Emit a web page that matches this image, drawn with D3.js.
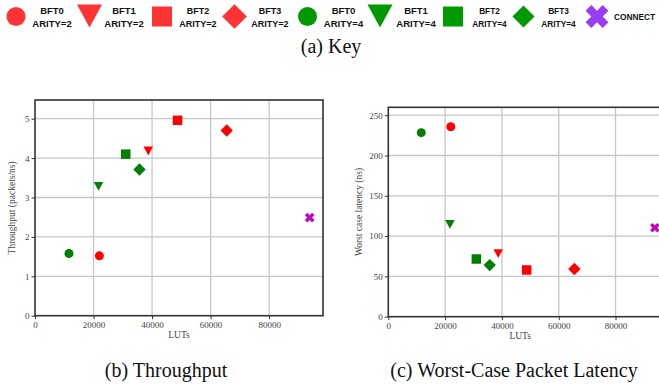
<!DOCTYPE html>
<html><head><meta charset="utf-8">
<script src="https://cdn.jsdelivr.net/npm/d3@7"></script>
<style>body{margin:0;background:#fff}svg{display:block}</style>
</head><body>
<svg id="c" width="659" height="385"></svg>
<script>
// ---- data ----
const names = ["BFT0","BFT1","BFT2","BFT3","BFT0","BFT1","BFT2","BFT3","CONNECT"];
const arities = ["ARITY=2","ARITY=2","ARITY=2","ARITY=2","ARITY=4","ARITY=4","ARITY=4","ARITY=4",""];
const shapes = ["circle","triangle","square","diamond","circle","triangle","square","diamond","x"];
const groups = ["a2","a2","a2","a2","a4","a4","a4","a4","connect"];
const luts = [22000, 38700, 48700, 65500, 11600, 21700, 31000, 35700, 93850];
const throughput = [1.52, 4.19, 4.96, 4.70, 1.58, 3.29, 4.10, 3.71, 2.49];
const latency = [235.7, 78.7, 58.0, 59.2, 228.3, 115.0, 71.6, 64.0, 110.4];
const xTicks = [0, 20000, 40000, 60000, 80000];
const yTicksThroughput = [0, 1, 2, 3, 4, 5];
const yTicksLatency = [0, 50, 100, 150, 200, 250];

const plotColor = {a2:"#ff0000", a4:"#008000", connect:"#c400c4"};
const keyColor = {a2:"#ff3333", a4:"#009900", connect:"#9b3cf5"};

const svg = d3.select("#c");

function shapePath(shape, s){
  const h = s/2;
  switch(shape){
    case "circle": { const p = d3.path(); p.arc(0,0,h,0,2*Math.PI); return p.toString(); }
    case "triangle": return `M${-h},${-h*0.85}L${h},${-h*0.85}L0,${h*1.0}Z`;
    case "square": return `M${-h},${-h}L${h},${-h}L${h},${h}L${-h},${h}Z`;
    case "diamond": { const d = h*1.3; return `M0,${-d}L${d},0L0,${d}L${-d},0Z`; }
    case "x": return d3.symbol(d3.symbolCross, s*s*0.9)();
  }
}

function drawMarker(g, shape, cx, cy, s, color){
  const el = g.append("path").attr("d", shapePath(shape, s)).attr("fill", color);
  if(shape === "x") el.attr("transform", `translate(${cx},${cy}) rotate(45)`);
  else el.attr("transform", `translate(${cx},${cy})`);
  return el;
}

// ---- key ----
const keyX = [16, 89.5, 162, 234.5, 307.5, 380, 453, 523.5, 597];
const keyTextX = [52, 124, 198, 270, 343.5, 416, 489.5, 558.5, 634.5];
const keySize = [19, 25, 20, 19, 19, 25, 20, 17, 19];
const keyFont = [9.5, 9.5, 9, 9, 9.5, 9.5, 8.3, 8.3, 8.3];
const key = svg.append("g");
names.forEach((n,i)=>{
  const cy = shapes[i]==="triangle" ? 15 : 16.5;
  drawMarker(key, shapes[i], keyX[i], cy, keySize[i], keyColor[groups[i]]);
  const t = key.append("text").attr("x", keyTextX[i]).attr("text-anchor","middle")
    .attr("font-family","Liberation Sans, Arial, sans-serif").attr("font-weight","bold")
    .attr("font-size", keyFont[i]).attr("fill","#111");
  if(arities[i]){
    t.append("tspan").attr("x", keyTextX[i]).attr("y", 13.5).text(n);
    t.append("tspan").attr("x", keyTextX[i]).attr("y", 26.5).text(arities[i]);
  } else {
    t.attr("y", 20).text(n);
  }
});
svg.append("text").attr("x", 331).attr("y", 53).attr("text-anchor","middle")
  .attr("font-family","Liberation Serif, Times New Roman, serif").attr("font-size",20)
  .attr("fill","#111").text("(a) Key");

// ---- panels ----
function panel(opts){
  const g = svg.append("g");
  const x = d3.scaleLinear().domain([0, 98400]).range([opts.left, opts.right]);
  const y = d3.scaleLinear().domain([0, opts.ymax]).range([opts.bottom, opts.top]);
  g.append("g").selectAll("line").data(xTicks.slice(1)).join("line")
    .attr("x1", d=>x(d)).attr("x2", d=>x(d)).attr("y1", opts.top).attr("y2", opts.bottom)
    .attr("stroke","#c6c6c6").attr("stroke-width",1.3);
  g.append("g").selectAll("line").data(opts.yTicks.slice(1)).join("line")
    .attr("y1", d=>y(d)).attr("y2", d=>y(d)).attr("x1", opts.left).attr("x2", opts.right)
    .attr("stroke","#c6c6c6").attr("stroke-width",1.3);
  const ax = g.append("g").attr("transform",`translate(0,${opts.bottom})`)
    .call(d3.axisBottom(x).tickValues(xTicks).tickFormat(d3.format("d")).tickSize(3.5).tickPadding(2));
  const ay = g.append("g").attr("transform",`translate(${opts.left},0)`)
    .call(d3.axisLeft(y).tickValues(opts.yTicks).tickFormat(d3.format("d")).tickSize(3.5).tickPadding(2));
  [ax, ay].forEach(a=>{
    a.select(".domain").remove();
    a.selectAll("line").attr("stroke","#333").attr("stroke-width",1);
    a.selectAll("text").attr("font-family","Liberation Serif, Times New Roman, serif")
      .attr("font-size",9).attr("fill","#444");
  });
  g.append("rect").attr("x", opts.left).attr("y", opts.top)
    .attr("width", opts.right-opts.left).attr("height", opts.bottom-opts.top)
    .attr("fill","none").attr("stroke","#333").attr("stroke-width",1.6);
  const pts = g.append("g");
  luts.forEach((v,i)=>{
    const sz = {circle:9, triangle:9.5, square:9.5, diamond:9.5, x:8}[shapes[i]];
    drawMarker(pts, shapes[i], x(v), y(opts.values[i]), sz, plotColor[groups[i]]);
  });
  g.append("text").attr("x", (opts.left+opts.right0)/2).attr("y", opts.bottom+22)
    .attr("text-anchor","middle").attr("font-family","Liberation Serif, Times New Roman, serif")
    .attr("font-size",9.5).attr("fill","#444").text("LUTs");
  g.append("text").attr("transform",`translate(${opts.ylabX},${(opts.top+opts.bottom)/2}) rotate(-90)`)
    .attr("text-anchor","middle").attr("font-family","Liberation Serif, Times New Roman, serif")
    .attr("font-size",9.5).attr("fill","#444").text(opts.ylabel);
  svg.append("text").attr("x", opts.capX).attr("y", 377).attr("text-anchor","middle")
    .attr("font-family","Liberation Serif, Times New Roman, serif").attr("font-size",20)
    .attr("fill","#111").text(opts.caption);
}

panel({left:35, right:323, right0:323, top:100, bottom:315.7, ymax:5.475,
  yTicks:yTicksThroughput, values:throughput, ylabel:"Throughput (packets/ns)",
  ylabX:15, caption:"(b) Throughput", capX:166});
panel({left:388.3, right:667.8, right0:652, top:107.3, bottom:316.7, ymax:259.8,
  yTicks:yTicksLatency, values:latency, ylabel:"Worst case latency (ns)",
  ylabX:362, caption:"(c) Worst-Case Packet Latency", capX:514});
</script>
</body></html>
